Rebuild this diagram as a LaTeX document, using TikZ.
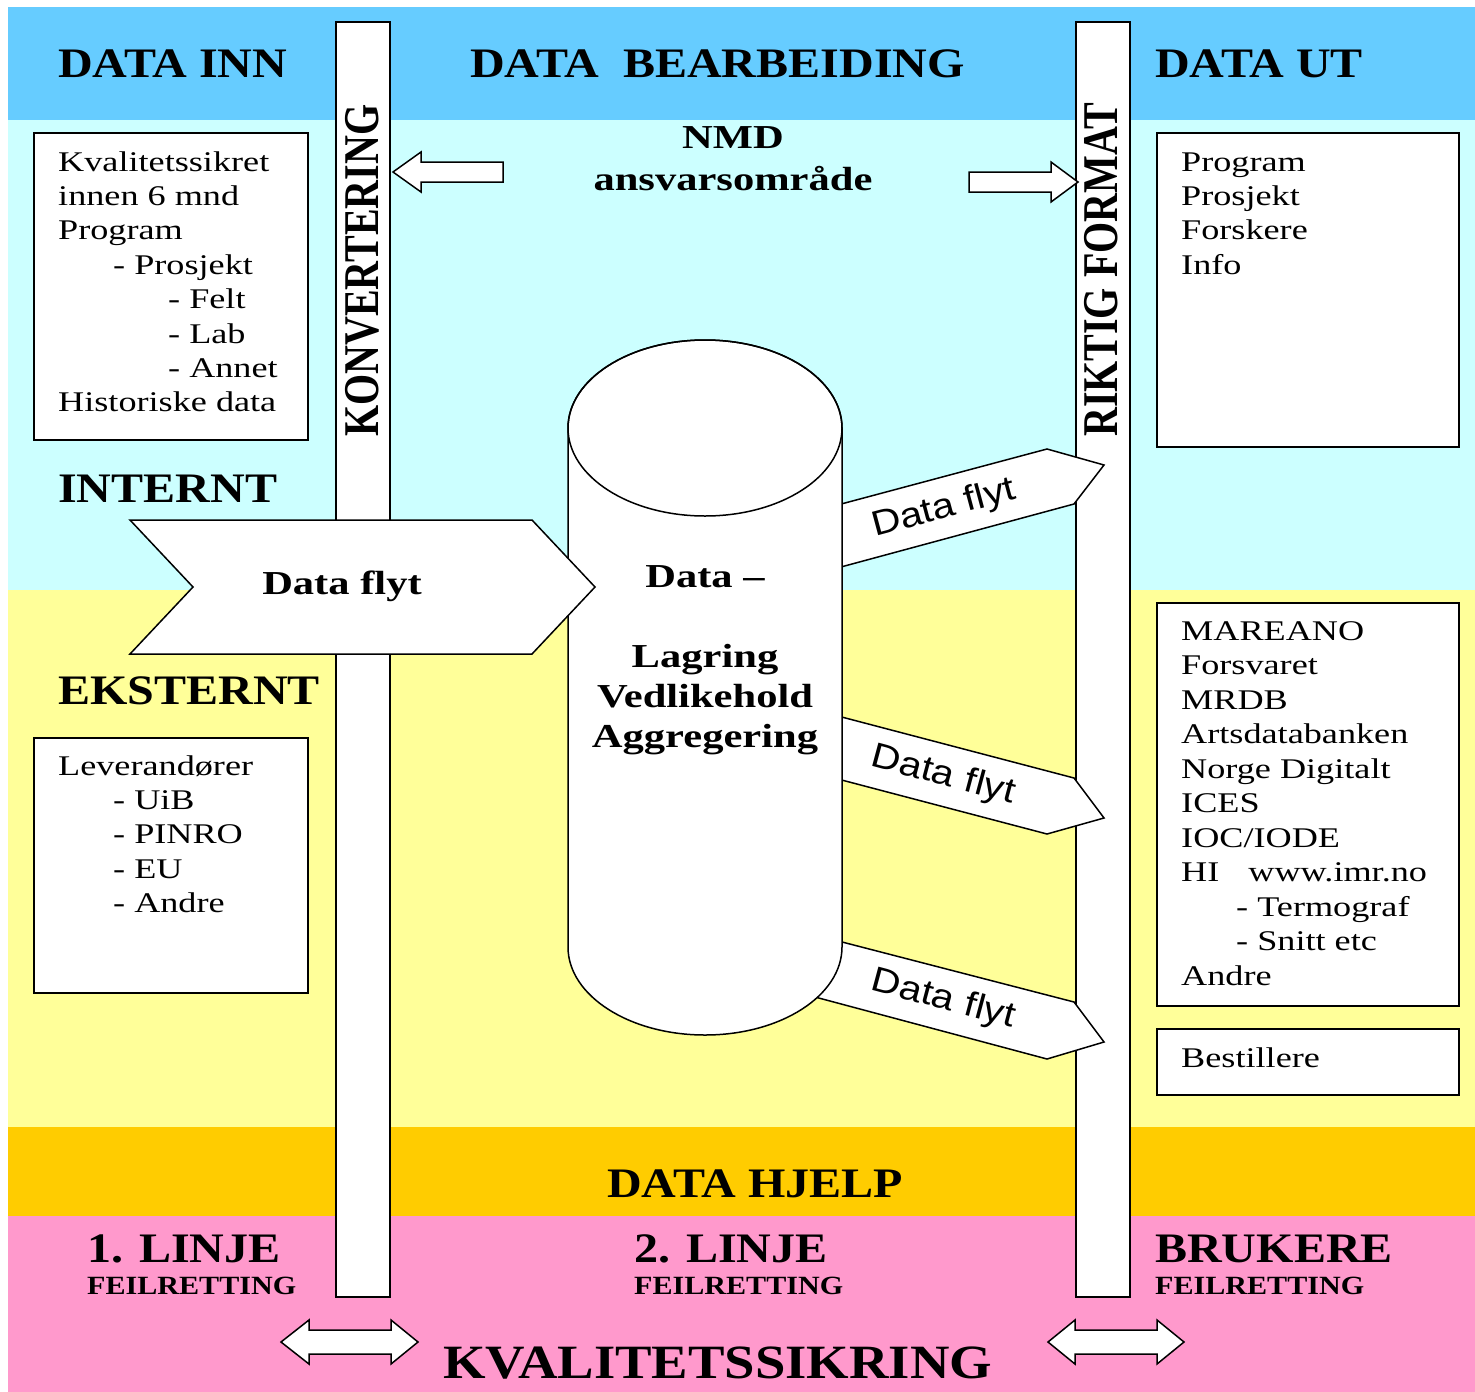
\documentclass[tikz,border=0pt]{standalone}
\usepackage{fontspec}
\setmainfont{Liberation Serif}
\newfontfamily\headfont[FakeStretch=1.144]{Liberation Serif}
\newfontfamily\bodyfont[FakeStretch=1.27]{Liberation Serif}
\newfontfamily\flowfont[FakeStretch=1.15]{Liberation Sans}
\definecolor{bandblue}{HTML}{66CCFF}
\definecolor{bandcyan}{HTML}{CCFFFF}
\definecolor{bandyellow}{HTML}{FFFF99}
\definecolor{bandorange}{HTML}{FFCC00}
\definecolor{bandpink}{HTML}{FF99CC}

\begin{document}
\begin{tikzpicture}[x=1pt, y=-1pt,
	lane/.style={draw=black, line width=1.5pt, fill=white},
	listbox/.style={draw=black, line width=1.5pt, fill=white},
	hollow/.style={draw=black, line width=1.5pt, fill=white, line join=miter},
	headtext/.style={anchor=base west, inner sep=0pt, font=\headfont\bfseries\fontsize{42}{48}\selectfont},
	subtext/.style={anchor=base west, inner sep=0pt, font=\headfont\bfseries\fontsize{26.3}{30}\selectfont},
	itemtext/.style={anchor=base west, inner sep=0pt, font=\bodyfont\fontsize{28.5}{34}\selectfont},
	midtext/.style={anchor=base, inner sep=0pt, font=\bodyfont\bfseries\fontsize{33.5}{40}\selectfont},
	sidetext/.style={transform shape, rotate=90, yscale=1.25, anchor=base west, inner sep=0pt,
		font=\bfseries\fontsize{40}{44}\selectfont},
	flowtext/.style={inner sep=0pt, font=\flowfont\fontsize{35}{40}\selectfont}]
	\useasboundingbox (0,0) rectangle (1475,1392);

	% colour bands
	\fill[bandblue] (8,7) rectangle (1475,120);
	\fill[bandcyan] (8,120) rectangle (1475,590);
	\fill[bandyellow] (8,590) rectangle (1475,1127);
	\fill[bandorange] (8,1127) rectangle (1475,1216);
	\fill[bandpink] (8,1216) rectangle (1475,1392);

	% the two bars
	\draw[lane] (336,22) rectangle (390,1297);
	\draw[lane] (1076,22) rectangle (1130,1297);
	\node[sidetext] (konv) at (378,437) {KONVERTERING};
	\node[sidetext] (format) at (1117,437) {RIKTIG FORMAT};

	% headings
	\node[headtext] (inn) at (58,77) {DATA INN};
	\node[headtext] (bearb) at (470,77) {DATA~~BEARBEIDING};
	\node[headtext] (ut) at (1155,77) {DATA UT};
	\node[midtext] (nmd) at (733,148) {NMD};
	\node[midtext] (ansvar) at (733,190) {ansvarsområde};
	\node[headtext] (internt) at (58,502) {INTERNT};
	\node[headtext] (eksternt) at (58,704) {EKSTERNT};

	% boxes
	\draw[listbox] (34,133) rectangle (308,440);
	\draw[listbox] (34,738) rectangle (308,993);
	\draw[listbox] (1157,133) rectangle (1459,447);
	\draw[listbox] (1157,603) rectangle (1459,1006);
	\draw[listbox] (1157,1029) rectangle (1459,1095);

	\foreach \dx/\txt [count=\i from 0] in {0/Kvalitetssikret, 0/innen 6 mnd, 0/Program,
		55/- Prosjekt, 110/- Felt, 110/- Lab, 110/- Annet, 0/Historiske data}
		\node[itemtext] (intern\i) at ({58+\dx},{171+34.4*\i}) {\txt};
	\foreach \dx/\txt [count=\i from 0] in {0/Leverandører, 55/- UiB, 55/- PINRO, 55/- EU, 55/- Andre}
		\node[itemtext] (extern\i) at ({58+\dx},{775+34.4*\i}) {\txt};
	\foreach \txt [count=\i from 0] in {Program, Prosjekt, Forskere, Info}
		\node[itemtext] (bruk\i) at (1181,{171+34.4*\i}) {\txt};
	\foreach \dx/\txt [count=\i from 0] in {0/MAREANO, 0/Forsvaret, 0/MRDB, 0/Artsdatabanken,
		0/Norge Digitalt, 0/ICES, 0/{IOC/IODE}, 0/HI\hspace{29pt}www.imr.no, 55/- Termograf,
		55/- Snitt etc, 0/Andre}
		\node[itemtext] (partner\i) at ({1181+\dx},{640+34.5*\i}) {\txt};
	\node[itemtext] (bestill) at (1181,1067) {Bestillere};

	% arrows out of the store
	\draw[hollow] (815,511) -- (1047,449) -- (1104,465) -- (1074,504) -- (815,574) -- cycle;
	\draw[hollow] (815,710) -- (1074,778) -- (1104,818) -- (1047,834) -- (815,773) -- cycle;
	\draw[hollow] (815,935) -- (1074,1002) -- (1104,1042) -- (1047,1059) -- (815,997) -- cycle;
	\node[flowtext, rotate=15] (flyt1) at (944,509) {Data flyt};
	\node[flowtext, rotate=-15] (flyt2) at (943,776) {Data flyt};
	\node[flowtext, rotate=-15] (flyt3) at (943,1000) {Data flyt};

	% the store
	\draw[fill=white, line width=1.5pt] (568,428) -- (568,947)
		arc[start angle=180, end angle=360, x radius=137pt, y radius=88pt] -- (842,428)
		arc[start angle=0, end angle=180, x radius=137pt, y radius=88pt] -- cycle;
	\draw[line width=1.5pt] (705,428) ellipse [x radius=137pt, y radius=88pt];
	\foreach \yy/\txt [count=\i] in {587/Data –, 667/Lagring, 707/Vedlikehold, 747/Aggregering}
		\node[midtext] (store\i) at (705,\yy) {\txt};

	% big arrow into the store
	\draw[hollow] (130,520) -- (532,520) -- (595,587) -- (532,654) -- (130,654) -- (193,587) -- cycle;
	\node[midtext] (flytinn) at (342,594) {Data flyt};

	% small arrows at the top
	\draw[hollow] (503,162) -- (421,162) -- (421,152) -- (393,172) -- (421,192) -- (421,182) -- (503,182) -- cycle;
	\draw[hollow] (969,172) -- (1051,172) -- (1051,162) -- (1078,182) -- (1051,202) -- (1051,192) -- (969,192) -- cycle;

	% bottom rows
	\node[headtext] (hjelp) at (607,1197) {DATA HJELP};
	\node[headtext] (linje1) at (87,1262) {1. LINJE};
	\node[subtext] (feil1) at (87,1294) {FEILRETTING};
	\node[headtext] (linje2) at (634,1262) {2. LINJE};
	\node[subtext] (feil2) at (634,1294) {FEILRETTING};
	\node[headtext] (brukere) at (1155,1262) {BRUKERE};
	\node[subtext] (feil3) at (1155,1294) {FEILRETTING};
	\node[headtext, font=\headfont\bfseries\fontsize{47.8}{52}\selectfont] (kval) at (443,1378) {KVALITETSSIKRING};

	% double arrows
	\draw[hollow] (281,1342) -- (309,1320) -- (309,1330) -- (391,1330) -- (391,1320) -- (418,1342)
		-- (391,1364) -- (391,1354) -- (309,1354) -- (309,1364) -- cycle;
	\draw[hollow] (1048,1342) -- (1075,1320) -- (1075,1330) -- (1157,1330) -- (1157,1320) -- (1184,1342)
		-- (1157,1364) -- (1157,1354) -- (1075,1354) -- (1075,1364) -- cycle;
\end{tikzpicture}
\end{document}
